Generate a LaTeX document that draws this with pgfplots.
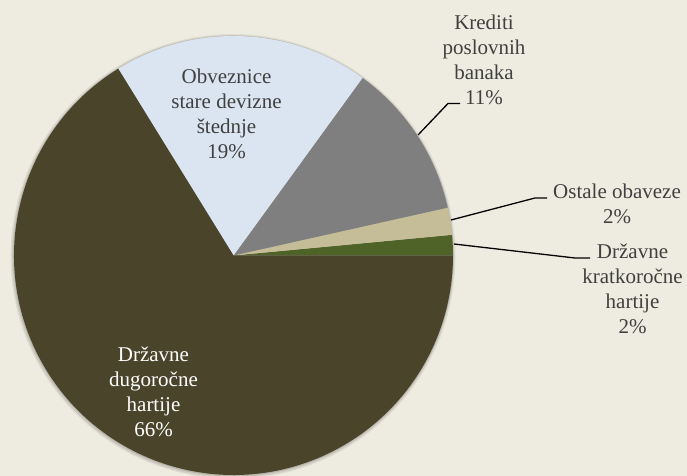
\documentclass[border=0pt]{standalone}
\usepackage{pgfplots}
\pgfplotsset{compat=1.18}
\usepackage{fontspec}
\setmainfont{Liberation Serif}
\definecolor{bg}{HTML}{EEECE1}
\definecolor{olivec}{HTML}{4A452A}
\definecolor{grn}{HTML}{4F6228}
\definecolor{tanc}{HTML}{C4BD97}
\definecolor{gry}{HTML}{7F7F7F}
\definecolor{lblue}{HTML}{DBE5F1}
\definecolor{txt}{HTML}{404040}
% shares (percent), counter-clockwise from 0 degrees
\def\vA{1.5}  % Drzavne kratkorocne hartije
\def\vB{2.0}  % Ostale obaveze
\def\vC{11.5} % Krediti poslovnih banaka
\def\vD{18.8} % Obveznice stare devizne stednje
\def\vE{66.2} % Drzavne dugorocne hartije
\pgfmathsetmacro\aA{3.6*\vA}
\pgfmathsetmacro\aB{\aA+3.6*\vB}
\pgfmathsetmacro\aC{\aB+3.6*\vC}
\pgfmathsetmacro\aD{\aC+3.6*\vD}
\def\R{219.5bp}
\begin{document}
\begin{tikzpicture}
\begin{axis}[width=687bp,height=476bp,scale only axis,
  xmin=0,xmax=687,ymin=0,ymax=476,hide axis,ticks=none,clip=false]
\fill[bg] (axis cs:0,0) rectangle (axis cs:687,476);
% soft shadow
\fill[black,opacity=0.06] (axis cs:233,219.5) circle[radius=222.5bp];
\fill[black,opacity=0.08] (axis cs:233,219.5) circle[radius=221.3bp];
\fill[black,opacity=0.10] (axis cs:233.3,220) circle[radius=220.3bp];
% slices
\fill[grn]    (axis cs:233.5,220.5) -- ++(0:\R) arc[start angle=0,end angle=\aA,radius=\R] -- cycle;
\fill[tanc]   (axis cs:233.5,220.5) -- ++(\aA:\R) arc[start angle=\aA,end angle=\aB,radius=\R] -- cycle;
\fill[gry]    (axis cs:233.5,220.5) -- ++(\aB:\R) arc[start angle=\aB,end angle=\aC,radius=\R] -- cycle;
\fill[lblue]  (axis cs:233.5,220.5) -- ++(\aC:\R) arc[start angle=\aC,end angle=\aD,radius=\R] -- cycle;
\fill[olivec] (axis cs:233.5,220.5) -- ++(\aD:\R) arc[start angle=\aD,end angle=360,radius=\R] -- cycle;
% leader lines
\draw[black,line width=1.3bp] (axis cs:418,341) -- (axis cs:448,372.5) -- (axis cs:460,372.5);
\draw[black,line width=1.3bp] (axis cs:451,256) -- (axis cs:535,278) -- (axis cs:547,278);
\draw[black,line width=1.3bp] (axis cs:454,232) -- (axis cs:575,218) -- (axis cs:590,218);
% labels
\tikzset{lbl/.style={align=center,font=\fontsize{21bp}{25bp}\selectfont,inner sep=0pt}}
\node[lbl,text=txt] at (axis cs:226.5,362.5) {Obveznice\\stare devizne\\štednje\\19\%};
\node[lbl,text=txt] at (axis cs:484,416.5) {Krediti\\poslovnih\\banaka\\11\%};
\node[lbl,text=txt] at (axis cs:617,272.5) {Ostale obaveze\\2\%};
\node[lbl,text=txt] at (axis cs:632.5,187.5) {Državne\\kratkoročne\\hartije\\2\%};
\node[lbl,text=white] at (axis cs:153.5,84.5) {Državne\\dugoročne\\hartije\\66\%};
\end{axis}
\pgfresetboundingbox
\path[use as bounding box] (current axis.south west) rectangle (current axis.north east);
\end{tikzpicture}
\end{document}
